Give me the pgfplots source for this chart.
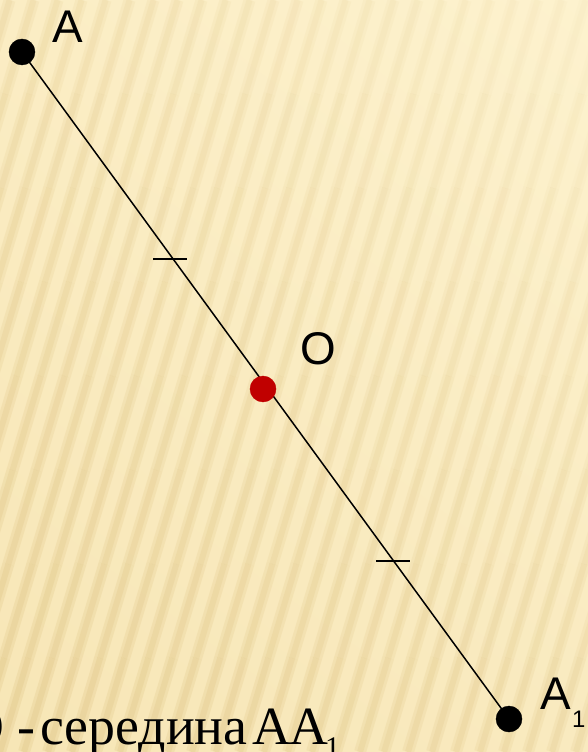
\documentclass[border=0pt]{standalone}
\usepackage{fontspec}
\setmainfont{Liberation Serif}
\newfontfamily\labelfont{Liberation Sans}
\usepackage{pgfplots}
\pgfplotsset{compat=1.18}
\usetikzlibrary{shadings}
\definecolor{bgTR}{HTML}{FDF2CE}
\definecolor{bgTL}{HTML}{FBEDC4}
\definecolor{bgBL}{HTML}{F7E6B6}
\definecolor{bgBR}{HTML}{F9EABF}
\definecolor{stripe}{HTML}{E2C98C}
\definecolor{reddot}{HTML}{C00000}
\begin{document}
\begin{tikzpicture}[x=1bp,y=1bp]
\useasboundingbox (0,0) rectangle (588,752);
\clip (0,0) rectangle (588,752);
% background paper with soft slanted stripes
\shade[upper right=bgTR, upper left=bgTL, lower left=bgBL, lower right=bgBR] (0,0) rectangle (588,752);
\foreach \s in {-264,-240,...,600}{
  \foreach \k in {0,...,7}{
    \pgfmathsetmacro\ya{\k*94}
    \pgfmathsetmacro\yb{(\k+1)*94}
    \pgfmathsetmacro\xa{\s+0.3*\ya}
    \pgfmathsetmacro\xb{\s+0.3*\yb}
    \pgfmathsetmacro\dd{max(0,min(1,((588-(\xa+\xb)/2)+(752-(\ya+\yb)/2))/1340))}
    \pgfmathsetmacro\op{0.06+0.6*\dd}
    \draw[stripe, line cap=butt, line width=12, opacity=0.5*\op] (\xa,\ya) -- (\xb,\yb);
    \draw[stripe, line cap=butt, line width=6, opacity=0.6*\op] (\xa,\ya) -- (\xb,\yb);
  }
}
\begin{axis}[at={(0,0)}, anchor=south west, scale only axis,
  width=588bp, height=752bp,
  xmin=0, xmax=588, ymin=0, ymax=752, y dir=reverse,
  hide axis, clip=false]
\addplot[black, line width=1.5bp] coordinates {(22,52) (509,719)};
\addplot[black, line width=2bp] coordinates {(153,259) (187,259)};
\addplot[black, line width=2bp] coordinates {(376,561) (410,561)};
\addplot[only marks, mark=*, mark size=13bp, black] coordinates {(22,52) (509,719)};
\addplot[only marks, mark=*, mark size=13bp, reddot] coordinates {(263,389)};
\node[inner sep=0, anchor=base, font=\labelfont\fontsize{46}{46}\selectfont] at (axis cs:68,43) {A};
\node[inner sep=0, anchor=base, font=\labelfont\fontsize{46}{46}\selectfont] at (axis cs:318,365) {O};
\node[inner sep=0, anchor=base west, font=\labelfont\fontsize{46}{46}\selectfont] at (axis cs:540,709) {A};
\node[inner sep=0, anchor=base west, font=\labelfont\fontsize{24}{24}\selectfont] at (axis cs:572,727) {1};
\node[inner sep=0, anchor=base east, font=\fontsize{54}{54}\selectfont] at (axis cs:36,744) {О -};
\node[inner sep=0, anchor=base west, font=\fontsize{54}{54}\selectfont] at (axis cs:40,744) {середина};
\node[inner sep=0, anchor=base west, font=\fontsize{54}{54}\selectfont] at (axis cs:252,744) {A\kern-2bp A};
\node[inner sep=0, anchor=base west, font=\fontsize{30}{30}\selectfont] at (axis cs:325,757) {1};
\end{axis}
\end{tikzpicture}
\end{document}
